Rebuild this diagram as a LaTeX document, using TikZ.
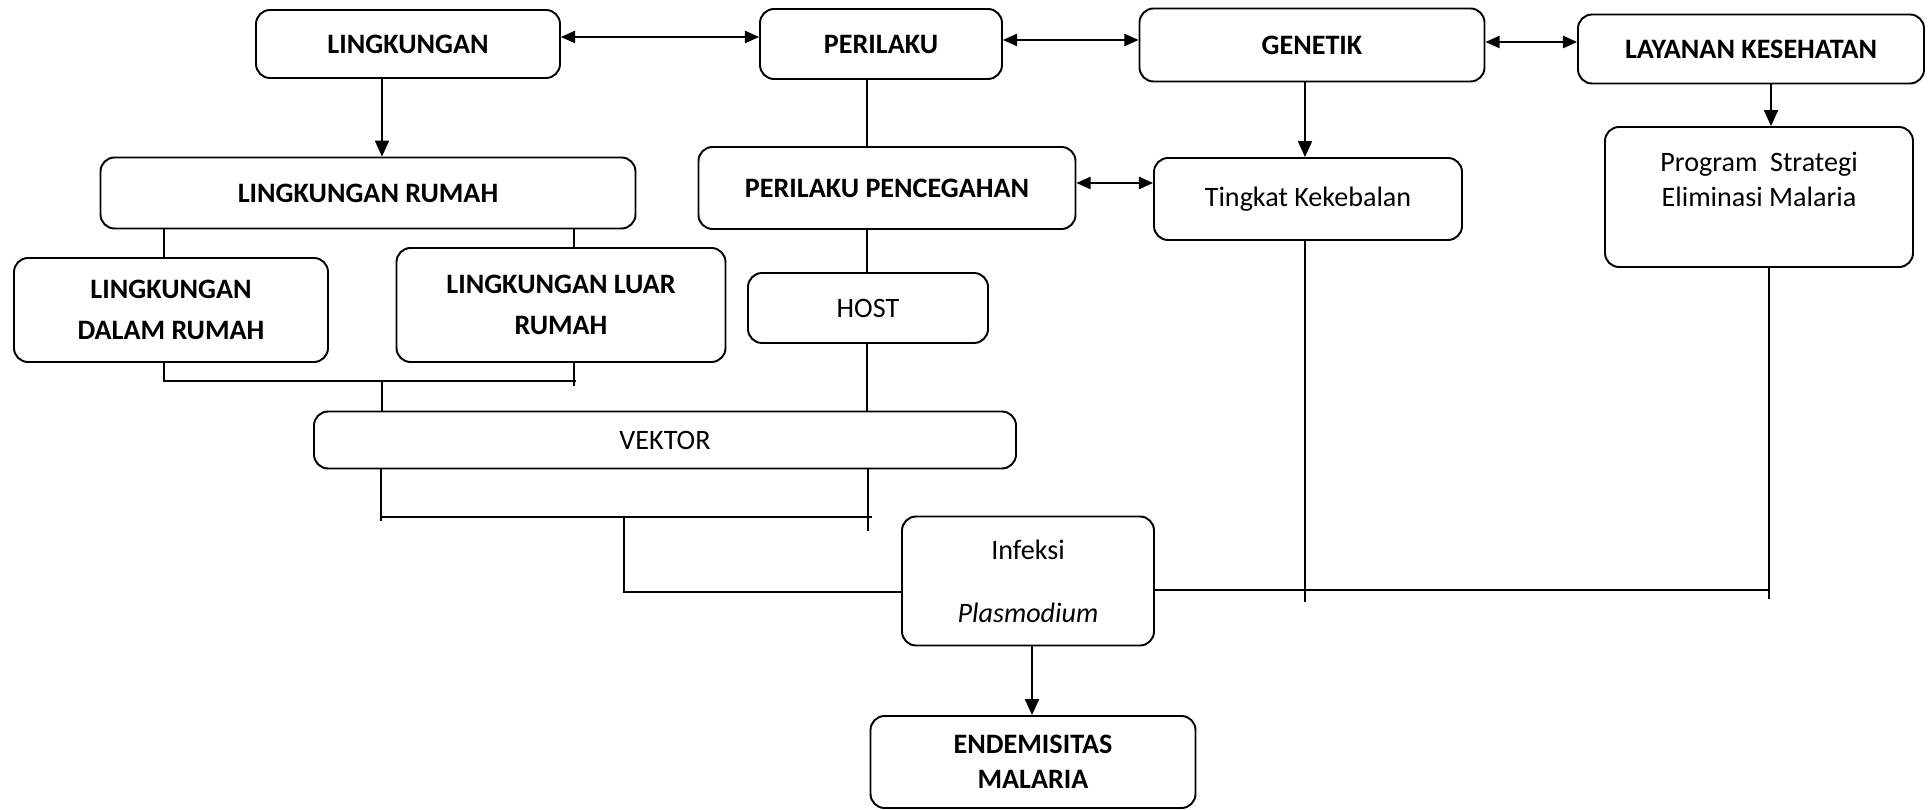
\documentclass[tikz,border=0pt]{standalone}
\usepackage{fontspec}
\setmainfont{Carlito}
\usetikzlibrary{positioning,arrows.meta,calc}
\tikzstyle{bx}=[%
      rectangle, draw=black, line width=1.1pt, rounded corners=8pt, align=center,
      inner sep=4pt, font=\fontsize{16}{20}\selectfont
]
\tikzstyle{bxb}=[%
      bx, font=\fontsize{16}{20}\selectfont\bfseries
]
\tikzstyle{ln}=[%
      line width=0.75pt
]
\tikzset{sz/.style 2 args={minimum width=#1*0.02cm, minimum height=#2*0.02cm}}

\begin{document}
\begin{tikzpicture}[x=0.02cm, y=-0.02cm,
    dbl/.style={{Triangle[length=8pt,width=7pt]}-{Triangle[length=8pt,width=7pt]}, line width=0.75pt},
    arr/.style={-{Triangle[length=9pt,width=8pt]}, line width=0.75pt},
]
    \useasboundingbox (0,0) rectangle (1930,810);
    % baris atas
    \node[bxb, sz={304}{68}]  (lingk)  at (408,44)   {LINGKUNGAN};
    \node[bxb, sz={242}{70}]  (peril)  at (881,44)   {PERILAKU};
    \node[bxb, sz={345}{73}]  (genet)  at (1312,45)  {GENETIK};
    \node[bxb, sz={346}{69}]  (layan)  at (1751,49)  {LAYANAN KESEHATAN};
    % baris kedua
    \node[bxb, sz={535}{71}]  (lrumah) at (368,193)  {LINGKUNGAN RUMAH};
    \node[bxb, sz={377}{82}]  (pcegah) at (887,188)  {PERILAKU PENCEGAHAN};
    \node[bx,  sz={308}{82}]  (kebal)  at (1308,199) {Tingkat Kekebalan};
    \node[bx,  sz={308}{140}] (progr)  at (1759,197) {Program\ \ Strategi\\Eliminasi Malaria\\\mbox{}};
    % baris ketiga
    \node[bxb, sz={314}{104}] (ldalam) at (171,310)  {LINGKUNGAN\\[3pt]DALAM RUMAH};
    \node[bxb, sz={329}{114}] (lluar)  at (561,305)  {LINGKUNGAN LUAR\\[3pt]RUMAH};
    \node[bx,  sz={240}{70}]  (host)   at (868,308)  {HOST};
    \node[bx,  sz={702}{57}]  (vektor) at (665,440)  {VEKTOR};
    \node[bx,  sz={252}{129}] (infeksi) at (1028,581) {Infeksi\\[16pt]\textit{Plasmodium}};
    \node[bxb, sz={325}{92}]  (endem)  at (1033,762) {ENDEMISITAS\\MALARIA};

    % titik pertemuan garis
    \coordinate (jl) at (382,381);
    \coordinate (dl) at (164,381);
    \coordinate (dr) at (576,381);
    \coordinate (lu) at (574,386);
    \coordinate (va) at (381,521);
    \coordinate (vb) at (868,531);
    \coordinate (hl) at (381,517);
    \coordinate (hr) at (872,517);
    \coordinate (jv) at (624,517);
    \coordinate (jb) at (624,592);
    \coordinate (ir) at (1769,590);
    \coordinate (kb) at (1305,602);
    \coordinate (pb) at (1769,599);

    \draw[dbl] (lingk.east |- 0,37)  -- (peril.west |- 0,37);
    \draw[dbl] (peril.east |- 0,40)  -- (genet.west |- 0,40);
    \draw[dbl] (genet.east |- 0,42)  -- (layan.west |- 0,42);
    \draw[dbl] (pcegah.east |- 0,183) -- (kebal.west |- 0,183);

    \draw[arr] (lingk.south -| jl)      -- (lrumah.north -| jl);
    \draw[arr] (genet.south -| kb)      -- (kebal.north -| kb);
    \draw[arr] (layan.south -| 1771,0)  -- (progr.north -| 1771,0);
    \draw[arr] (infeksi.south -| 1032,0) -- (endem.north -| 1032,0);

    \draw[ln] (peril.south -| 867,0)  -- (pcegah.north -| 867,0);
    \draw[ln] (pcegah.south -| 867,0) -- (host.north -| 867,0);
    \draw[ln] (host.south -| 867,0)   -- (vektor.north -| 867,0);
    \draw[ln] (lrumah.south -| dl)    -- (ldalam.north -| dl);
    \draw[ln] (lrumah.south -| lu)    -- (lluar.north -| lu);

    \draw[ln] (ldalam.south -| dl) -- (dl) -- (dr);
    \draw[ln] (lluar.south -| lu) -- (lu);
    \draw[ln] (jl) -- (vektor.north -| jl);

    \draw[ln] (vektor.south -| va) -- (va);
    \draw[ln] (vektor.south -| vb) -- (vb);
    \draw[ln] (hl) -- (hr);
    \draw[ln] (jv) -- (jb) -- (infeksi.west |- jb);
    \draw[ln] (infeksi.east |- ir) -- (ir);
    \draw[ln] (kebal.south -| kb) -- (kb);
    \draw[ln] (progr.south -| pb) -- (pb);
\end{tikzpicture}
\end{document}
